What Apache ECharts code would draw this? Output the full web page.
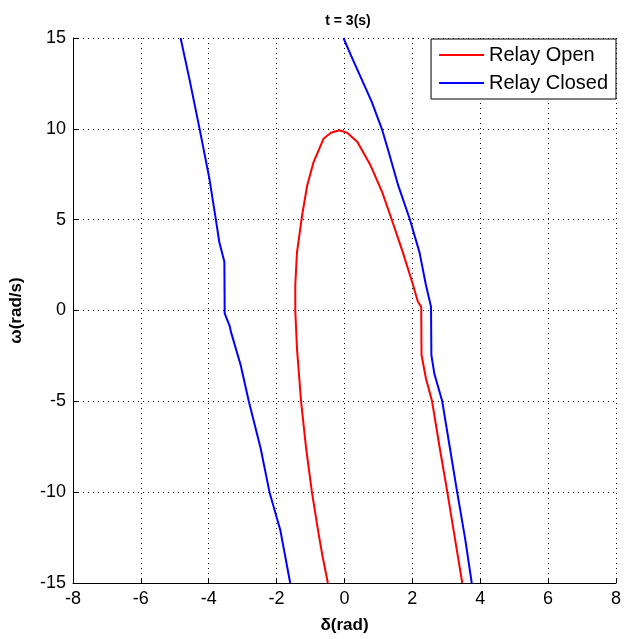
<!DOCTYPE html>
<html>
<head>
<meta charset="utf-8">
<script src="https://cdn.jsdelivr.net/npm/echarts@6/dist/echarts.min.js"></script>
<style>
  html, body { margin: 0; padding: 0; background: #fff; }
  #chart { width: 624px; height: 639px; }
</style>
</head>
<body>
<div id="chart"></div>
<script>
// [delta, omega] pairs
const relayOpen = [
  [-0.49, -15], [-0.65, -13.5], [-0.78, -12.1], [-0.96, -10], [-1.13, -7.6],
  [-1.28, -5], [-1.4, -2.1], [-1.45, 0], [-1.45, 1.4], [-1.4, 3.2],
  [-1.25, 5.23], [-1.1, 6.88], [-0.91, 8.17], [-0.62, 9.45], [-0.4, 9.78],
  [-0.15, 9.92], [0.08, 9.78], [0.38, 9.27], [0.77, 7.98], [1.11, 6.52],
  [1.35, 5.23], [1.72, 3.2], [2.02, 1.4], [2.16, 0.5], [2.26, 0.2], [2.27, -2.45],
  [2.4, -3.74], [2.58, -5], [2.8, -7.5], [3.03, -10], [3.25, -12.5], [3.47, -15]
]
const relayClosedLeft = [
  [-4.83, 15], [-4.57, 12.75], [-4.27, 10], [-3.98, 7.25], [-3.79, 5],
  [-3.69, 3.77], [-3.54, 2.68], [-3.53, -0.16], [-3.38, -0.88], [-3.35, -1.15],
  [-3.06, -3.0], [-2.82, -5], [-2.47, -7.6], [-2.21, -10], [-1.89, -12.1], [-1.6, -15]
]
const relayClosedRight = [
  [-0.03, 15], [0.2, 14], [0.5, 12.75], [0.8, 11.5], [1.1, 10],
  [1.3, 8.74], [1.58, 6.9], [1.92, 5.05], [2.21, 3.2], [2.4, 1.4], [2.55, 0.2],
  [2.56, -2.46], [2.65, -3.5], [2.88, -5], [3.1, -7.5], [3.32, -10],
  [3.55, -12.5], [3.75, -15]
]
const xTicks = [-8, 8, 2]
const yTicks = [-15, 15, 5]

const chart = echarts.init(document.getElementById('chart'))

const font = 'Liberation Sans, Arial, sans-serif'
const gridLine = { show: true, lineStyle: { color: '#000', type: [1, 4], width: 1 } }

const lineSeries = (name, data, color) => ({
  name,
  type: 'line',
  data,
  symbol: 'none',
  animation: false,
  lineStyle: { color, width: 2 },
  itemStyle: { color }
})

chart.setOption({
  animation: false,
  title: {
    text: 't = 3(s)',
    left: 343,
    top: 9,
    textAlign: 'center',
    textStyle: { fontFamily: font, fontSize: 14, fontWeight: 'bold', color: '#000' }
  },
  grid: { left: 71, right: 7, top: 38, bottom: 54 },
  legend: {
    orient: 'vertical',
    right: 8,
    top: 39,
    padding: [5, 8, 5, 8],
    itemGap: 6,
    itemWidth: 45,
    itemHeight: 2,
    icon: 'rect',
    borderColor: '#000',
    borderWidth: 1,
    backgroundColor: '#fff',
    data: ['Relay Open', 'Relay Closed'],
    textStyle: { fontFamily: font, fontSize: 20, lineHeight: 22, color: '#000' }
  },
  xAxis: {
    type: 'value',
    min: xTicks[0],
    max: xTicks[1],
    interval: xTicks[2],
    name: 'δ(rad)',
    nameLocation: 'middle',
    nameGap: 34,
    nameTextStyle: { fontFamily: font, fontSize: 17, fontWeight: 'bold', color: '#000' },
    axisLine: { show: true, onZero: false, lineStyle: { color: '#000', width: 1 } },
    axisTick: { show: true, inside: true, length: 5, lineStyle: { color: '#000' } },
    axisLabel: { fontFamily: font, fontSize: 18, color: '#000', margin: 7 },
    splitLine: gridLine
  },
  yAxis: {
    type: 'value',
    min: yTicks[0],
    max: yTicks[1],
    interval: yTicks[2],
    name: 'ω(rad/s)',
    nameLocation: 'middle',
    nameGap: 48,
    nameTextStyle: { fontFamily: font, fontSize: 17, fontWeight: 'bold', color: '#000' },
    axisLine: { show: true, onZero: false, lineStyle: { color: '#000', width: 1 } },
    axisTick: { show: true, inside: true, length: 5, lineStyle: { color: '#000' } },
    axisLabel: { fontFamily: font, fontSize: 18, color: '#000', margin: 7 },
    splitLine: gridLine
  },
  series: [
    lineSeries('Relay Open', relayOpen, '#ff0000'),
    lineSeries('Relay Closed', relayClosedLeft, '#0000ff'),
    lineSeries('Relay Closed', relayClosedRight, '#0000ff')
  ]
})
</script>
</body>
</html>
